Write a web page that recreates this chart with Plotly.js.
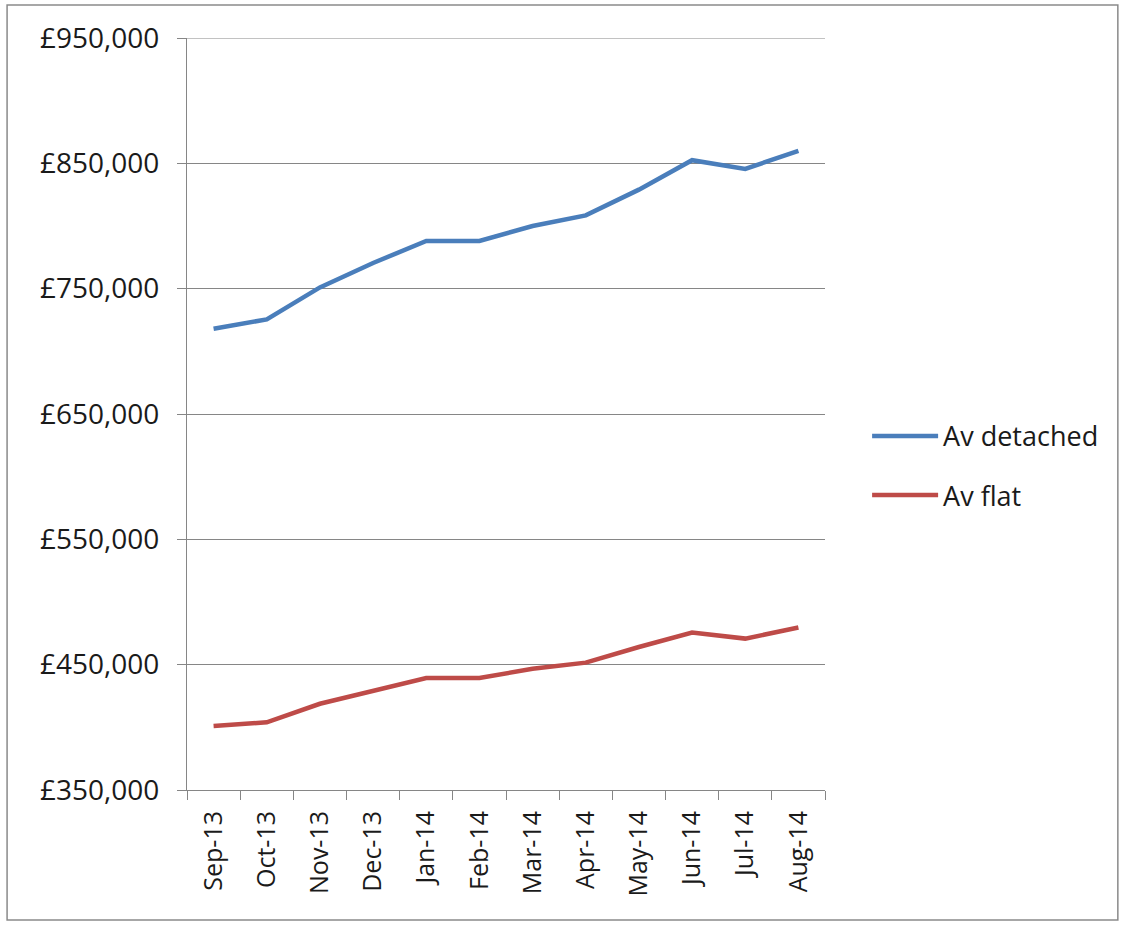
<!DOCTYPE html>
<html>
<head>
<meta charset="utf-8">
<script src="https://cdn.plot.ly/plotly-3.0.1.min.js"></script>
<style>html,body{margin:0;padding:0;background:#fff;}#chart{width:1125px;height:925px;}</style>
</head>
<body>
<div id="chart"></div>
<script>
const months = ["Sep-13","Oct-13","Nov-13","Dec-13","Jan-14","Feb-14","Mar-14","Apr-14","May-14","Jun-14","Jul-14","Aug-14"];
const avDetached = [718000,725500,751000,770500,788000,788000,800000,808500,829000,852500,845500,860000];
const avFlat = [401000,404000,418800,429400,439300,439300,446800,451600,464100,475600,470800,479600];
const seriesNames = ["Av detached","Av flat"];
const yTicks = [350000,450000,550000,650000,750000,850000,950000];
const yTickText = yTicks.map(v => "\u00A3" + v.toLocaleString("en-GB"));

const font = "Open Sans, Liberation Sans, sans-serif";
const traces = [
  {x: months, y: avDetached, name: seriesNames[0], type: "scatter", mode: "lines",
   line: {color: "#4A7EBB", width: 4.5}, legendgroup: "a"},
  {x: months, y: avFlat, name: seriesNames[1], type: "scatter", mode: "lines",
   line: {color: "#BE4B48", width: 4.5}, legendgroup: "b"}
];
const layout = {
  width: 1125, height: 925,
  margin: {l: 187, r: 300, t: 38, b: 135},
  paper_bgcolor: "#fff", plot_bgcolor: "#fff",
  showlegend: true,
  legend: {x: 1.066, xanchor: "left", y: 0.431, yanchor: "middle",
    font: {family: font, size: 27, color: "#1a1a1a"}, itemwidth: 66,
    traceorder: "grouped", tracegroupgap: 21, bgcolor: "rgba(0,0,0,0)"},
  xaxis: {type: "category", range: [-0.5, 11.5], tickson: "boundaries", ticks: "outside", ticklen: 9,
    tickcolor: "#868686", showline: true, linecolor: "#868686", linewidth: 1,
    showgrid: false, tickangle: -90, tickfont: {family: font, size: 25, color: "#1a1a1a"},
    ticklabelstandoff: 10, fixedrange: true},
  yaxis: {range: [350000, 950000], tickvals: yTicks, ticktext: yTickText,
    ticks: "outside", ticklen: 9, tickcolor: "#868686", showline: true,
    linecolor: "#868686", linewidth: 1, showgrid: true, gridcolor: "#868686",
    gridwidth: 1, zeroline: false, tickfont: {family: font, size: 28, color: "#1a1a1a"},
    ticklabelstandoff: 12, fixedrange: true},
  shapes: [
    {type: "rect", xref: "paper", yref: "paper",
     x0: -0.282, x1: 1.459, y0: -0.1729, y1: 1.0439,
     line: {color: "#8a8a8a", width: 1.5}, fillcolor: "rgba(0,0,0,0)", layer: "below"},
    {type: "line", xref: "paper", yref: "y", x0: 0, x1: 1, y0: 950000, y1: 950000,
     line: {color: "#868686", width: 1}, layer: "below"}
  ]
};
Plotly.newPlot("chart", traces, layout, {displayModeBar: false, staticPlot: true});
</script>
</body>
</html>
